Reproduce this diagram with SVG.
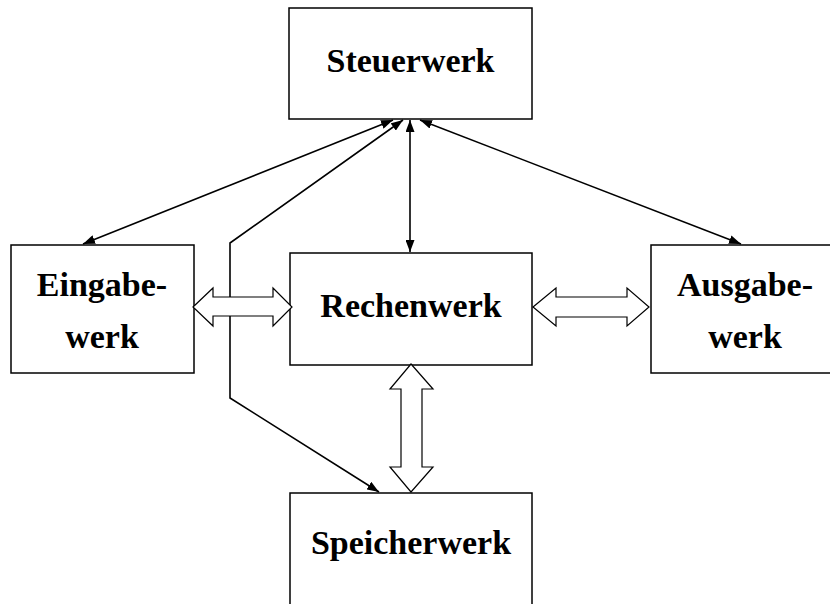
<svg xmlns="http://www.w3.org/2000/svg" width="830" height="604" viewBox="0 0 830 604">
<style>
.box{fill:#fff;stroke:#000;stroke-width:1.5}
.lbl{font-family:"Liberation Serif","Times New Roman",serif;font-weight:bold;font-size:34px;text-anchor:middle;fill:#000}
.con{fill:none;stroke:#000;stroke-width:1.6}
.blk{fill:#fff;stroke:#000;stroke-width:1.2;stroke-linejoin:miter}
</style>
<defs>
<marker id="ah" viewBox="0 0 12 9" refX="12" refY="4.5" markerWidth="12" markerHeight="9" markerUnits="userSpaceOnUse" orient="auto-start-reverse">
<path d="M0,0 L12,4.5 L0,9 Z" fill="#000"/>
</marker>
</defs>
<rect width="830" height="604" fill="#fff"/>
<g id="steuerwerk"><rect class="box" x="289" y="8" width="243" height="111"/><text class="lbl" x="410.5" y="72">Steuerwerk</text></g>
<g id="eingabewerk"><rect class="box" x="11" y="245" width="183" height="128"/><text class="lbl" x="102" y="296">Eingabe-</text><text class="lbl" x="102" y="348">werk</text></g>
<g id="rechenwerk"><rect class="box" x="290" y="253" width="242" height="112"/><text class="lbl" x="411" y="317">Rechenwerk</text></g>
<g id="ausgabewerk"><rect class="box" x="651" y="245" width="190" height="128"/><text class="lbl" x="745" y="296">Ausgabe-</text><text class="lbl" x="745" y="348">werk</text></g>
<g id="speicherwerk"><rect class="box" x="290" y="493" width="242" height="130"/><text class="lbl" x="411" y="554">Speicherwerk</text></g>
<g id="connectors">
<line class="con" x1="83" y1="244" x2="393" y2="120" marker-start="url(#ah)" marker-end="url(#ah)"/>
<line class="con" x1="741" y1="244" x2="420" y2="120" marker-start="url(#ah)" marker-end="url(#ah)"/>
<line class="con" x1="410" y1="120" x2="410" y2="252" marker-start="url(#ah)" marker-end="url(#ah)"/>
<polyline class="con" points="403,120 230,243 230,398 379,492" marker-start="url(#ah)" marker-end="url(#ah)"/>
<polygon class="blk" points="193,307 213,288 213,297 273,297 273,288 292,307 273,326 273,316 213,316 213,326"/>
<polygon class="blk" points="533,307 556,288 556,297 627,297 627,288 649,307 627,326 627,317 556,317 556,326"/>
<polygon class="blk" points="411,364 433,389 422,389 422,467 433,467 411,492 390,467 401,467 401,389 390,389"/>
</g>
</svg>
